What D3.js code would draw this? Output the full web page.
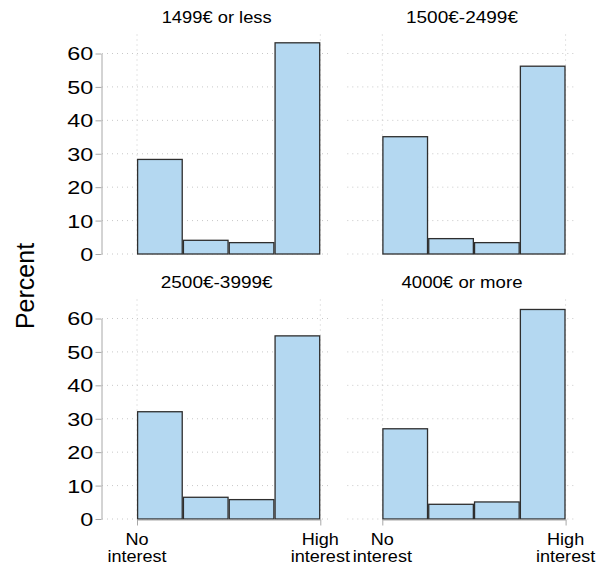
<!DOCTYPE html>
<html>
<head>
<meta charset="utf-8">
<script src="https://cdn.jsdelivr.net/npm/d3@7"></script>
<style>
  html, body { margin: 0; padding: 0; background: #fff; }
  svg { display: block; }
  text { font-family: "Liberation Sans", Arial, Helvetica, sans-serif; fill: #000; }
</style>
</head>
<body>
<svg id="chart" width="596" height="567"></svg>
<script>
// ---- data ----
const panelTitles = ["1499€ or less", "1500€-2499€", "2500€-3999€", "4000€ or more"];
const binEdges = [1, 2, 3, 4, 5];
const values1499OrLess = [28.3, 4.1, 3.4, 63.2];
const values1500To2499 = [35.1, 4.6, 3.4, 56.2];
const values2500To3999 = [32.1, 6.5, 5.8, 54.8];
const values4000OrMore = [27.0, 4.4, 5.1, 62.7];
const yTicks = [0, 10, 20, 30, 40, 50, 60];
const xTickValues = [1, 5];
const xTickLabels = [["No", "interest"], ["High", "interest"]];
const yAxisTitle = "Percent";

const panelValues = [values1499OrLess, values1500To2499, values2500To3999, values4000OrMore];

// ---- layout / style ----
const svg = d3.select("#chart");
const colOffset = [0, 245.3];
const rowOffset = [0, 265];
const x = d3.scaleLinear().domain([1, 5]).range([137, 320.3]);
const y = d3.scaleLinear().domain([0, 60]).range([254, 53.5]);
const regionLeft = 102, regionRight = 332, regionTop = 34.5;
const gridColor = "#c8c8c8";
const axisColor = "#a8a8a8";
const barFill = "#b4d8f1";
const barStroke = "#2e2e2e";
const titleWidths = [110, 112, 112, 121];
const tickStretch = 1.3, labelStretch = 1.13;

panelValues.forEach((vals, i) => {
  const col = i % 2, row = Math.floor(i / 2);
  const g = svg.append("g").attr("transform", `translate(${colOffset[col]},${rowOffset[row]})`);

  // horizontal grid
  g.append("g").selectAll("line").data(yTicks).join("line")
    .attr("x1", regionLeft).attr("x2", regionRight)
    .attr("y1", d => y(d)).attr("y2", d => y(d))
    .attr("stroke", gridColor).attr("stroke-width", 1).attr("stroke-dasharray", "1,4");
  // vertical grid
  g.append("g").selectAll("line").data(xTickValues).join("line")
    .attr("x1", d => x(d)).attr("x2", d => x(d))
    .attr("y1", regionTop).attr("y2", y(0))
    .attr("stroke", gridColor).attr("stroke-width", 1).attr("stroke-dasharray", "1,4");

  // bars
  const bins = vals.map((v, k) => ({ x0: binEdges[k], x1: binEdges[k + 1], v }));
  g.append("g").selectAll("rect").data(bins).join("rect")
    .attr("x", d => x(d.x0) + 0.6)
    .attr("width", d => x(d.x1) - x(d.x0) - 1.2)
    .attr("y", d => y(d.v))
    .attr("height", d => y(0) - y(d.v))
    .attr("fill", barFill).attr("stroke", barStroke).attr("stroke-width", 1.3);

  // title
  g.append("text").attr("x", 216.7).attr("y", 23.3)
    .attr("text-anchor", "middle").attr("font-size", 16.5)
    .attr("textLength", titleWidths[i]).attr("lengthAdjust", "spacingAndGlyphs")
    .text(panelTitles[i]);

  // y axis (left column)
  if (col === 0) {
    const ya = g.append("g").attr("transform", `translate(101.5,0)`)
      .call(d3.axisLeft(y).tickValues(yTicks).tickSize(6).tickPadding(2).tickSizeOuter(0));
    ya.select(".domain").attr("stroke", axisColor);
    ya.selectAll(".tick line").attr("stroke", axisColor);
    ya.selectAll(".tick text").attr("font-size", 18).attr("fill", "#000")
      .attr("font-family", "Liberation Sans, Arial, sans-serif").attr("dy", "0.36em")
      .attr("x", -8.2 / tickStretch)
      .attr("transform", `scale(${tickStretch},1)`);
  }
  // x axis (bottom row)
  if (row === 1) {
    const xa = g.append("g").attr("transform", `translate(0,${y(0) + 0.5})`)
      .call(d3.axisBottom(x).tickValues(xTickValues).tickSize(6).tickSizeOuter(0).tickFormat(""));
    xa.select(".domain").attr("stroke", axisColor);
    xa.selectAll(".tick line").attr("stroke", axisColor);
    xTickValues.forEach((tv, k) => {
      const t = g.append("text")
        .attr("transform", `translate(${x(tv)},${y(0) + 26}) scale(${labelStretch},1)`)
        .attr("text-anchor", "middle").attr("font-size", 16);
      xTickLabels[k].forEach((line, li) => {
        t.append("tspan").attr("x", 0).attr("dy", li === 0 ? 0 : 16.7).text(line);
      });
    });
  }
});

// y axis title
svg.append("text")
  .attr("transform", "translate(34,286) rotate(-90)")
  .attr("text-anchor", "middle").attr("font-size", 25)
  .text(yAxisTitle);
</script>
</body>
</html>
